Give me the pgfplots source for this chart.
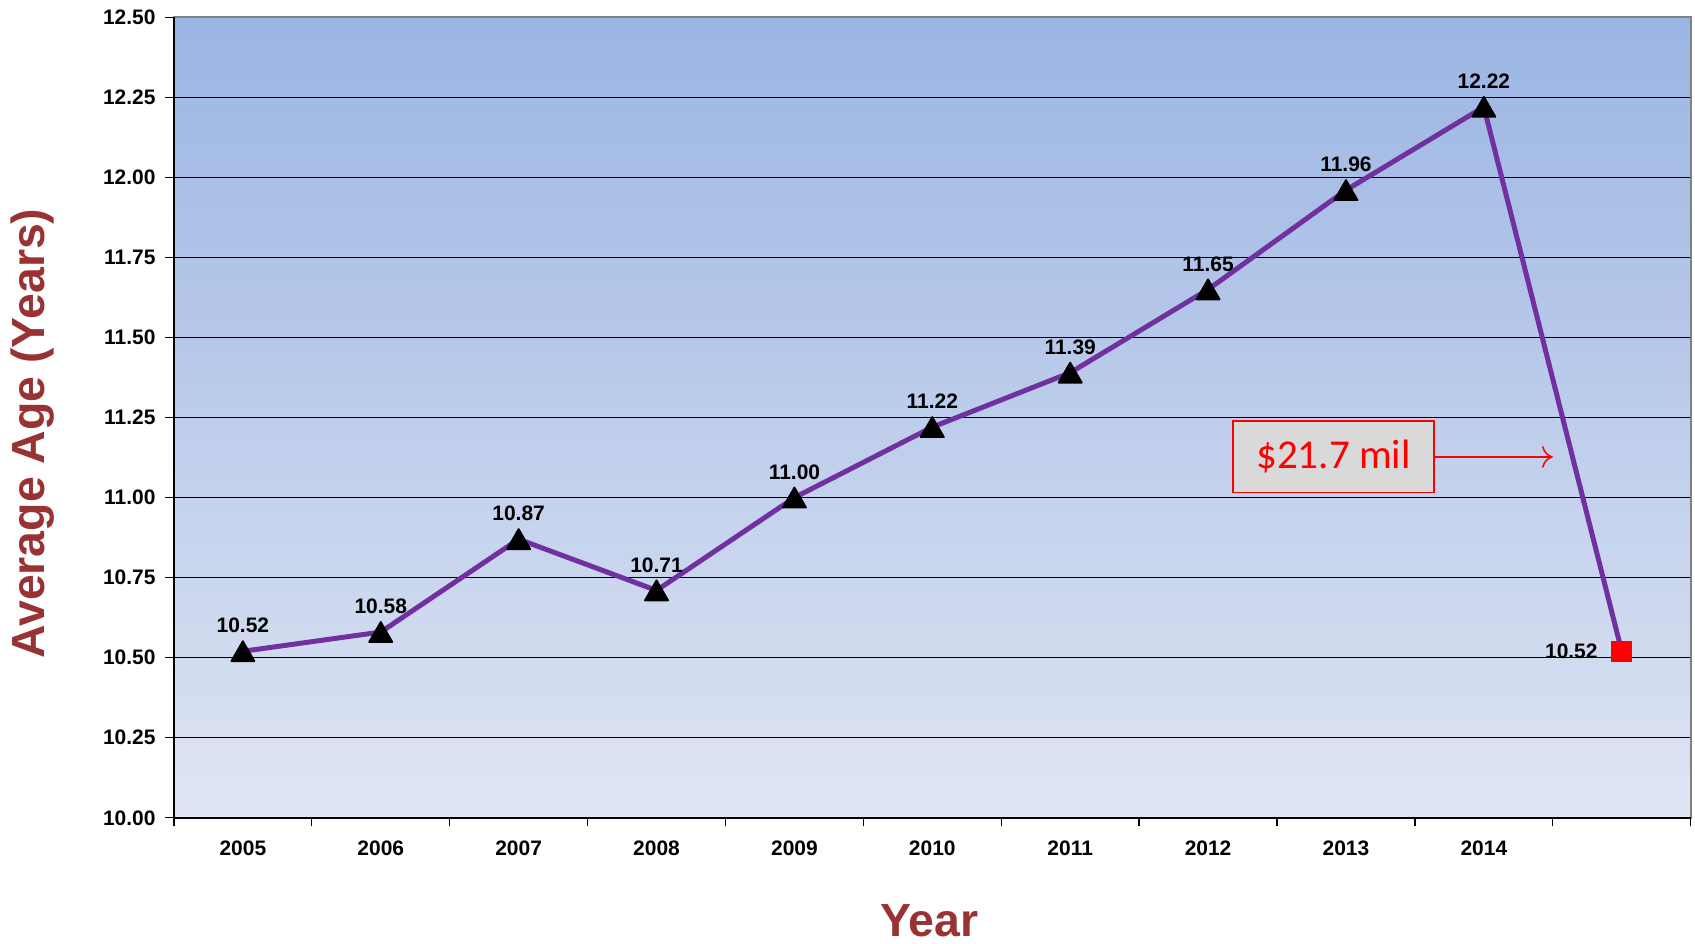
\documentclass[border=0pt]{standalone}
\usepackage{fontspec}
\setmainfont{Liberation Sans}
\newfontfamily\carlito{Carlito}
\usepackage{pgfplots}
\pgfplotsset{compat=1.18}
\usetikzlibrary{arrows.meta}

\definecolor{bgtop}{RGB}{155,181,227}
\definecolor{bgbot}{RGB}{223,229,243}
\definecolor{lineP}{RGB}{112,48,160}
\definecolor{labred}{RGB}{153,51,51}
\definecolor{boxgray}{RGB}{217,217,217}

\begin{document}
\begin{tikzpicture}
\path[use as bounding box] (-80.5pt,-58pt) rectangle (704pt,378.5pt);
\begin{axis}[
  at={(0pt,0pt)}, anchor=south west,
  width=702pt, height=370.5pt, scale only axis,
  xmin=-0.5, xmax=10.5, ymin=10, ymax=12.5,
  xtick={0,1,2,3,4,5,6,7,8,9},
  xticklabels={2005,2006,2007,2008,2009,2010,2011,2012,2013,2014},
  major x tick style={draw=none},
  minor xtick={-0.5,0.5,1.5,2.5,3.5,4.5,5.5,6.5,7.5,8.5,9.5,10.5},
  minor x tick style={black, line width=0.6pt},
  minor tick length=4pt,
  ytick={10,10.25,10.5,10.75,11,11.25,11.5,11.75,12,12.25,12.5},
  major y tick style={black, line width=0.6pt},
  major tick length=4pt,
  tick align=outside,
  xtick pos=bottom, ytick pos=left,
  /pgf/number format/assume math mode=true,
  yticklabel style={/pgf/number format/fixed, /pgf/number format/fixed zerofill, /pgf/number format/precision=2, font=\bfseries\fontsize{9.7}{12}\selectfont, xshift=-1pt},
  xticklabel style={font=\bfseries\fontsize{9.7}{12}\selectfont, yshift=-3pt},
  ymajorgrids, major grid style={black, line width=0.6pt},
  axis line style={draw=gray, line width=1pt},
  axis background/.style={top color=bgtop, bottom color=bgbot},
  xlabel={Year}, ylabel={Average Age (Years)},
  xlabel style={font=\bfseries\fontsize{21.5}{24}\selectfont, text=labred, at={(axis description cs:0.498,-0.128)}, anchor=center},
  ylabel style={font=\bfseries\fontsize{21.5}{24}\selectfont, text=labred, at={(axis description cs:-0.0933,0.48)}, anchor=center},
  clip=false,
]
\draw[black, line width=0.8pt] (rel axis cs:0,1) -- (rel axis cs:0,0) -- (rel axis cs:1,0);
\addplot[lineP, line width=2.3pt, mark=none] coordinates {
  (0,10.52) (1,10.58) (2,10.87) (3,10.71) (4,11.00) (5,11.22) (6,11.39) (7,11.65) (8,11.96) (9,12.22) (10,10.52)
};
\addplot[draw=none, mark=triangle*, mark size=6.2pt, mark options={black, fill=black, line join=round, line width=0.8pt, yshift=-1.5pt},
  nodes near coords, point meta=y,
  every node near coord/.append style={text=black, font=\bfseries\fontsize{9.7}{12}\selectfont, anchor=south, inner sep=0pt, yshift=9.5pt, /pgf/number format/fixed, /pgf/number format/fixed zerofill, /pgf/number format/precision=2}]
  coordinates {
  (0,10.52) (1,10.58) (2,10.87) (3,10.71) (4,11.00) (5,11.22) (6,11.39) (7,11.65) (8,11.96) (9,12.22)
};
\addplot[draw=none, mark=square*, mark size=4.6pt, mark options={red, fill=red, rounded corners=1pt},
  nodes near coords, point meta=y,
  every node near coord/.append style={text=black, font=\bfseries\fontsize{9.7}{12}\selectfont, anchor=east, inner sep=0pt, xshift=-11pt, /pgf/number format/fixed, /pgf/number format/fixed zerofill, /pgf/number format/precision=2}]
  coordinates {(10,10.52)};
\node[draw=red, fill=boxgray, text=red, line width=0.8pt, minimum width=93pt, minimum height=33pt, inner sep=0pt,
  font=\carlito\fontsize{19}{22}\selectfont] (ann) at (axis cs:7.91,11.127) {\$21.7 mil};
\draw[red, line width=0.7pt, -{To[length=5pt,width=10pt]}] (ann.east) -- (axis cs:9.5,11.127);
\end{axis}
\end{tikzpicture}
\end{document}
